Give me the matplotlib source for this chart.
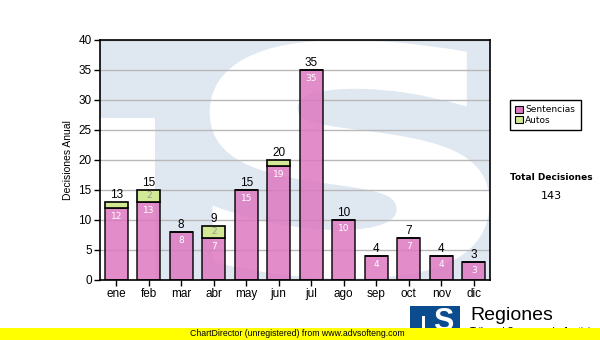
import matplotlib
matplotlib.use("Agg")
import matplotlib.pyplot as plt
from matplotlib.textpath import TextPath
from matplotlib.patches import PathPatch, Rectangle
from matplotlib.font_manager import FontProperties
from matplotlib.transforms import Affine2D

# data
months = ["ene", "feb", "mar", "abr", "may", "jun", "jul", "ago", "sep", "oct", "nov", "dic"]
sentencias = [12, 13, 8, 7, 15, 19, 35, 10, 4, 7, 4, 3]
autos = [1, 2, 0, 2, 0, 1, 0, 0, 0, 0, 0, 0]
y_ticks = [0, 5, 10, 15, 20, 25, 30, 35, 40]

pink = "#dd78c0"
green = "#d2e895"
plt.rcParams["font.family"] = ["Liberation Sans", "DejaVu Sans"]

fig = plt.figure(figsize=(6, 3.4), dpi=100)
ax = fig.add_axes([100 / 600, 60 / 340, 390 / 600, 240 / 340])
ax.set_facecolor("#dfe8f1")

# watermark: white rectangle on the left and a big white S
ax.add_patch(Rectangle((0, 0), 55 / 390, 162 / 240, transform=ax.transAxes,
                       facecolor="white", edgecolor="none", zorder=0.2))
tp = TextPath((0, 0), "S", size=1, prop=FontProperties(family="DejaVu Sans", weight="bold"))
ext = tp.get_extents()
x0, y0, x1, y1 = 0.29, 0.02, 0.99, 0.985
tr = Affine2D().translate(-ext.x0, -ext.y0).scale((x1 - x0) / ext.width, (y1 - y0) / ext.height).translate(x0, y0)
ax.add_patch(PathPatch(tp, transform=tr + ax.transAxes, facecolor="white", edgecolor="white",
                       linewidth=5, zorder=0.2))

x = list(range(len(months)))
ax.bar(x, sentencias, width=0.72, color=pink, alpha=0.85, edgecolor="black", linewidth=1.2,
       label="Sentencias", zorder=2)
ax.bar(x, autos, width=0.72, bottom=sentencias, color=green, edgecolor="black", linewidth=1.2,
       label="Autos", zorder=2)

for i in x:
    total = sentencias[i] + autos[i]
    ax.annotate(str(total), (i, total), xytext=(0, 1), textcoords="offset points",
                ha="center", va="bottom", fontsize=8.5, color="black", zorder=3)
    ax.annotate(str(sentencias[i]), (i, sentencias[i]), xytext=(0, -3), textcoords="offset points",
                ha="center", va="top", fontsize=6.5, color="white", family="DejaVu Sans", zorder=3)
    if autos[i] >= 2:
        ax.annotate(str(autos[i]), (i, sentencias[i] + autos[i] / 2), ha="center", va="center",
                    fontsize=6.5, color="#999999", family="DejaVu Sans", zorder=3)

ax.set_xlim(-0.5, 11.5)
ax.set_ylim(0, 40)
ax.set_yticks(y_ticks)
ax.set_xticks(x)
ax.set_xticklabels(months)
ax.tick_params(axis="both", labelsize=8.5, length=4, width=1, color="black", pad=2)
ax.set_axisbelow(True)
ax.yaxis.grid(True, color="#b8b8b8", linewidth=1)
for s in ax.spines.values():
    s.set_linewidth(1.2)
    s.set_color("black")
ax.set_ylabel("Decisiones Anual", fontsize=7.5)
ax.yaxis.set_label_coords(-27 / 390, 0.5)

leg = fig.legend(loc="upper left", bbox_to_anchor=(510 / 600, 1 - 100 / 340), borderaxespad=0,
                 frameon=True, fancybox=False, edgecolor="black", framealpha=1,
                 handlelength=0.8, handleheight=0.8, handletextpad=0.3, labelspacing=0.15,
                 borderpad=0.6, prop={"family": "DejaVu Sans", "size": 6.5})
leg.get_frame().set_linewidth(1)
for h in leg.legend_handles:
    h.set_alpha(1)
    h.set_linewidth(0.8)

fig.text(551 / 600, 1 - 178 / 340, "Total Decisiones", ha="center", va="center",
         fontsize=6.5, fontweight="bold", family="DejaVu Sans")
fig.text(551 / 600, 1 - 196 / 340, str(sum(sentencias) + sum(autos)), ha="center", va="center",
         fontsize=8, family="DejaVu Sans")

# logo at the bottom right
fig.patches.append(Rectangle((410 / 600, 0), 50 / 600, 34 / 340, transform=fig.transFigure,
                             facecolor="#0b4c8f", edgecolor="none", zorder=1))
fig.patches.append(Rectangle((422 / 600, 0), 3 / 600, 24 / 340, transform=fig.transFigure,
                             facecolor="white", edgecolor="none", zorder=1.5))
fig.text(443 / 600, 1 - 322 / 340, "S", ha="center", va="center", fontsize=22, fontweight="bold",
         color="white", zorder=2)
fig.text(470 / 600, 1 - 316 / 340, "Regiones", ha="left", va="center", fontsize=14, zorder=2)
fig.text(470 / 600, 1 - 332 / 340, "Tribunal Supremo de Justicia", ha="left", va="center",
         fontsize=7, zorder=2)

fig.patches.append(Rectangle((0, 0), 1, 12 / 340, transform=fig.transFigure,
                             facecolor="#ffff00", edgecolor="none", zorder=5))
fig.text(190 / 600, 6 / 340, "ChartDirector (unregistered) from www.advsofteng.com", ha="left",
         va="center", fontsize=6.3, zorder=6)

fig.savefig("out.png", dpi=100)
